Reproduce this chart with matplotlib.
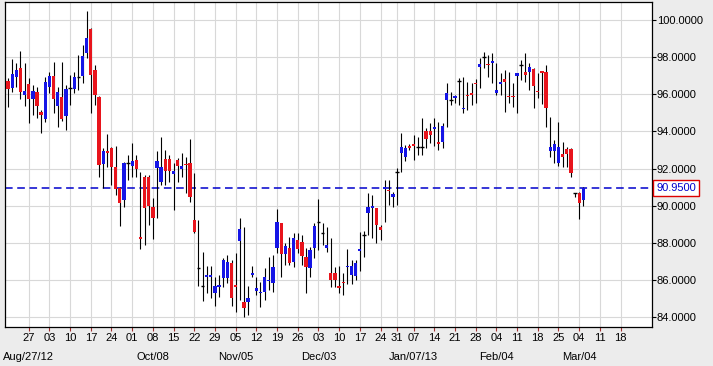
import numpy as np
import pandas as pd
import matplotlib
matplotlib.use('Agg')
import matplotlib.pyplot as plt

plt.rcParams['font.family'] = ['Liberation Sans', 'DejaVu Sans']

# daily OHLC, Aug 20 2012 .. Mar 05 2013 (trading days)
opens = [96.71, 96.33, 96.92, 97.40, 95.95, 96.54, 95.74, 96.11, 95.04, 94.66,
         96.38, 96.97, 95.36, 95.84, 94.82, 96.33, 96.27, 96.92, 96.97, 98.21,
         99.50, 97.30, 95.84, 92.24, 92.94, 93.10, 92.08, 90.95, 90.31, 92.30,
         92.13, 92.46, 88.32, 91.54, 91.54, 89.93, 92.03, 91.28, 92.51, 92.51,
         91.70, 92.46, 91.97, 92.27, 92.30, 89.23, 86.65, 85.68, 86.17, 86.17,
         85.31, 85.63, 86.11, 86.11, 86.92, 85.74, 88.10, 84.82, 84.82, 86.27,
         85.42, 85.31, 85.36, 85.95, 85.84, 87.73, 89.07, 87.40, 87.73, 86.97,
         88.16, 88.05, 87.24, 86.65, 87.73, 89.12, 88.53, 87.73, 86.38, 86.38,
         85.66, 85.87, 86.70, 86.27, 86.22, 87.57, 88.42, 89.61, 89.88, 89.88,
         88.86, 90.90, 90.85, 90.47, 91.81, 92.83, 92.62, 93.18, 93.32, 93.16,
         93.16, 94.02, 94.02, 94.15, 93.40, 93.42, 95.68, 95.68, 95.79, 96.71,
         95.22, 95.98, 96.03, 96.57, 97.46, 97.99, 97.62, 97.67, 96.06, 96.57,
         96.81, 95.87, 95.87, 96.97, 97.56, 97.19, 97.19, 97.35, 96.14, 97.22,
         97.19, 92.94, 92.94, 92.30, 92.78, 93.05, 93.05, 90.68, 90.68, 90.31]
highs = [96.87, 97.89, 97.67, 98.32, 97.67, 96.87, 96.49, 96.38, 95.15, 96.92,
         97.19, 97.73, 96.38, 97.73, 96.49, 97.03, 97.19, 98.10, 98.64, 100.47,
         99.55, 97.56, 95.90, 93.10, 93.86, 93.16, 93.21, 91.01, 92.35, 92.73,
         93.37, 92.73, 91.81, 91.65, 91.65, 90.41, 92.94, 93.69, 92.99, 92.73,
         92.30, 92.57, 92.83, 92.62, 93.59, 91.76, 89.23, 87.51, 86.76, 86.76,
         86.17, 86.27, 87.19, 87.35, 87.08, 87.46, 89.34, 88.86, 85.68, 86.76,
         86.17, 85.90, 86.65, 87.24, 87.35, 89.82, 89.07, 88.00, 88.32, 88.53,
         88.53, 88.42, 87.73, 87.78, 89.07, 90.36, 89.07, 88.86, 88.26, 86.70,
         86.76, 86.38, 87.67, 87.08, 87.08, 88.59, 88.64, 90.68, 90.58, 89.88,
         88.96, 91.38, 91.38, 90.74, 92.03, 93.91, 93.26, 93.32, 93.80, 93.69,
         94.72, 94.18, 94.45, 94.72, 94.50, 94.45, 96.60, 96.11, 95.95, 96.87,
         96.92, 96.65, 96.60, 96.81, 97.94, 98.26, 98.10, 98.21, 97.67, 97.14,
         97.30, 97.19, 96.60, 97.14, 97.83, 98.21, 97.67, 97.40, 97.14, 97.24,
         97.56, 94.77, 93.53, 94.50, 93.42, 93.16, 93.10, 90.68, 90.74, 91.01]
lows = [95.31, 96.11, 96.38, 95.74, 95.36, 94.45, 94.88, 94.72, 93.91, 94.50,
        96.06, 94.98, 94.23, 94.55, 94.07, 95.41, 96.06, 96.22, 96.60, 97.94,
        94.98, 95.41, 91.54, 90.95, 92.08, 91.11, 90.58, 88.91, 89.93, 91.38,
        91.54, 91.54, 87.67, 87.89, 88.96, 88.21, 89.34, 91.11, 91.11, 91.28,
        89.77, 91.28, 91.54, 90.68, 90.20, 88.53, 85.68, 84.88, 85.31, 85.04,
        84.61, 85.09, 85.63, 85.84, 84.61, 84.29, 84.93, 84.02, 84.12, 86.17,
        85.20, 84.55, 84.93, 85.47, 85.36, 87.46, 86.17, 86.81, 86.81, 86.70,
        87.46, 86.81, 85.31, 86.17, 87.19, 87.62, 87.89, 87.51, 85.63, 85.63,
        85.31, 85.20, 85.79, 85.79, 86.00, 86.49, 87.24, 88.42, 88.26, 88.00,
        88.16, 89.12, 90.04, 89.93, 90.04, 91.81, 92.40, 92.99, 92.46, 92.73,
        92.73, 93.10, 93.37, 93.21, 92.99, 93.10, 94.23, 95.41, 95.52, 95.41,
        94.98, 95.15, 95.41, 95.52, 96.33, 97.40, 96.92, 96.60, 95.95, 95.95,
        95.04, 95.52, 95.31, 94.98, 96.76, 96.65, 96.22, 95.25, 95.79, 95.47,
        94.23, 92.62, 92.30, 92.13, 92.08, 92.08, 91.54, 90.47, 89.29, 89.99]
closes = [96.27, 97.08, 97.30, 96.11, 96.17, 95.74, 96.17, 95.36, 94.88, 96.65,
          96.97, 95.74, 96.11, 94.66, 96.27, 96.33, 96.92, 96.92, 98.05, 99.02,
          97.03, 95.95, 92.19, 92.94, 92.83, 92.08, 90.90, 90.15, 92.30, 92.30,
          92.40, 91.97, 88.21, 89.88, 89.99, 89.34, 92.40, 92.08, 91.87, 91.87,
          91.87, 92.13, 92.13, 92.19, 90.47, 88.59, 86.65, 85.68, 86.27, 86.27,
          85.68, 85.74, 87.08, 86.97, 85.04, 85.63, 88.75, 84.50, 85.04, 86.38,
          85.58, 85.36, 86.17, 86.00, 86.70, 89.12, 87.40, 87.83, 86.92, 88.26,
          87.67, 87.30, 86.70, 87.62, 88.91, 89.12, 88.53, 87.89, 86.00, 86.00,
          85.60, 85.82, 86.76, 86.76, 86.92, 87.67, 88.42, 89.93, 89.99, 88.96,
          88.69, 91.01, 90.79, 90.63, 91.81, 93.16, 93.10, 93.13, 93.21, 93.16,
          93.16, 93.59, 93.80, 94.21, 93.34, 94.29, 96.06, 95.68, 95.90, 96.71,
          95.28, 95.92, 95.98, 96.52, 97.62, 97.99, 97.56, 97.78, 96.22, 96.62,
          96.65, 95.82, 95.82, 97.14, 97.56, 97.03, 97.46, 96.44, 96.09, 97.16,
          95.25, 93.16, 93.32, 93.16, 92.62, 92.78, 91.76, 90.68, 90.15, 90.95]
last_price = 90.95

holidays = ['2012-12-25', '2013-01-01']
month_dates = ['2012-08-27', '2012-10-08', '2012-11-05', '2012-12-03',
               '2013-01-07', '2013-02-04', '2013-03-04']
month_text = ['Aug/27/12', 'Oct/08', 'Nov/05', 'Dec/03', 'Jan/07/13', 'Feb/04', 'Mar/04']

# trading calendar (extends past the data so future weeks get ticks)
cal = pd.bdate_range('2012-08-20', '2013-03-29')
cal = cal[~cal.isin(pd.to_datetime(holidays))]
weeks = pd.Series(cal).dt.to_period('W')
first_of_week = (~weeks.duplicated()).values
in_range = (cal >= '2012-08-27') & (cal <= '2013-03-18')
week_idx = np.where(first_of_week & in_range)[0]
week_lbl = [cal[i].strftime('%d') for i in week_idx]
month_idx = [cal.get_loc(pd.Timestamp(d)) for d in month_dates]

o, h, l, c = map(np.array, (opens, highs, lows, closes))
x = np.arange(len(o))
up = c > o
dn = c < o
dj = c == o

red = '#e8141c'
blue = '#1515e6'

fig = plt.figure(figsize=(7.13, 3.66), dpi=100, facecolor='#ececec')
ax = fig.add_axes([4.5 / 713, 39 / 366, 647.5 / 713, 325.5 / 366])
ax.set_facecolor('white')

ax.vlines(x, l, h, color='black', lw=0.8, zorder=3)
bottoms = np.minimum(o, c)
heights = np.maximum(np.abs(c - o), 0.06)
ax.bar(x[up], heights[up], bottom=bottoms[up], width=0.8, color=blue, lw=0, zorder=4)
ax.bar(x[dn], heights[dn], bottom=bottoms[dn], width=0.8, color=red, lw=0, zorder=4)
ax.hlines(o[dj], x[dj] - 0.45, x[dj] + 0.45, color='black', lw=1.0, zorder=4)

ax.axhline(last_price, color='#0000cc', lw=1.1, ls=(0, (5, 3)), zorder=2)

ax.set_xlim(-0.85, 155.6)
ax.set_ylim(83.48, 100.98)

ax.set_xticks(week_idx)
ax.set_xticklabels(week_lbl)
ax.set_xticks(month_idx, minor=True)
ax.set_xticklabels(month_text, minor=True)
ax.xaxis.remove_overlapping_locs = False
ax.tick_params(axis='x', which='major', length=3, width=0.8, color='#a03030',
               pad=1.5, labelsize=8)
ax.tick_params(axis='x', which='minor', length=0, pad=18, labelsize=8)

ax.yaxis.tick_right()
ax.set_yticks(np.arange(84, 101, 2))
ax.set_yticklabels([f'{v:.4f}' for v in np.arange(84, 101, 2)])
ax.tick_params(axis='y', length=3, width=0.8, pad=0.5, labelsize=8)

ax.set_axisbelow(True)
ax.grid(True, which='major', color='#d8d8d8', lw=0.8)

for s in ax.spines.values():
    s.set_color('black')
    s.set_linewidth(0.9)

ax.annotate(f'{last_price:.4f}', xy=(1, last_price), xycoords=('axes fraction', 'data'),
            xytext=(3, 0), textcoords='offset points', va='center', ha='left',
            color='#0000cc', fontsize=8,
            bbox=dict(boxstyle='square,pad=0.25', fc='white', ec='#dd0000', lw=1))

fig.savefig('out.png', dpi=100, facecolor=fig.get_facecolor())
